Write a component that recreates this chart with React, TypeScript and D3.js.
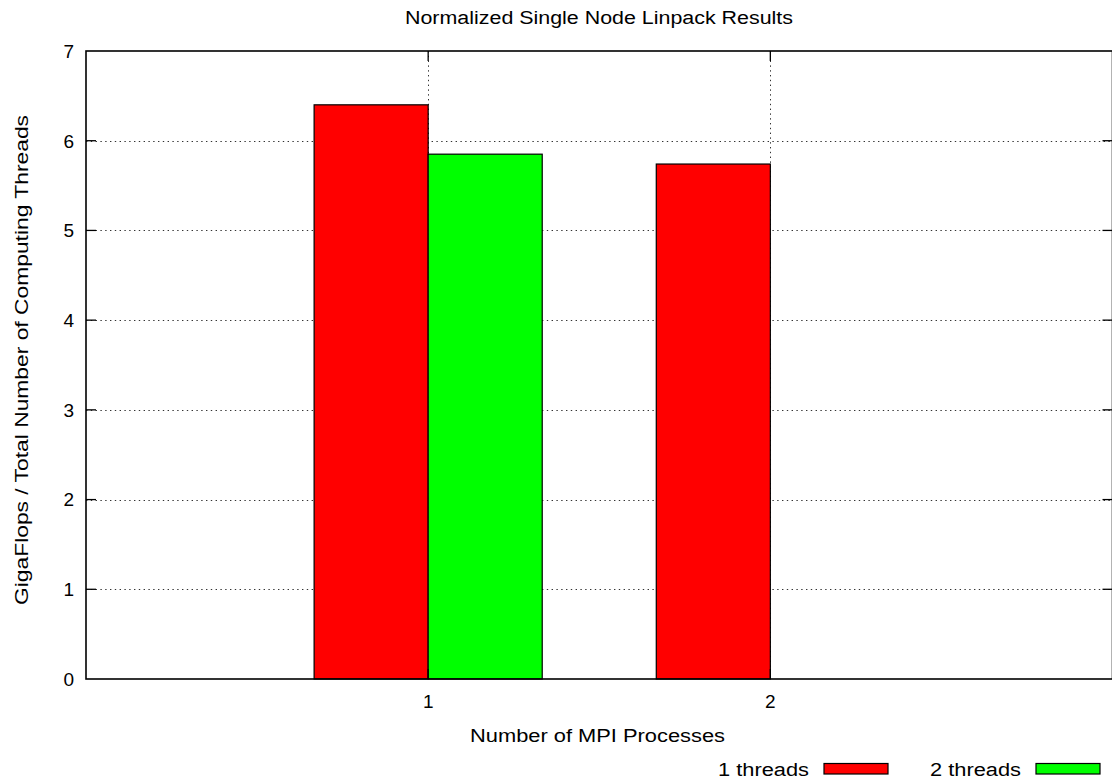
import React from 'react';
import * as d3 from 'd3';

// values
const categories = [1, 2];
const seriesNames = ['1 threads', '2 threads'];
const threads1: (number | null)[] = [6.40, 5.74];
const threads2: (number | null)[] = [5.85, null];
const yTicks = [0, 1, 2, 3, 4, 5, 6, 7];
const xTicks = [1, 2];
const seriesColors = ['#ff0000', '#00ff00'];

const title = 'Normalized Single Node Linpack Results';
const xTitle = 'Number of MPI Processes';
const yTitle = 'GigaFlops / Total Number of Computing Threads';

export default function App() {
    const width = 1112;
    const height = 782;
    const left = 86;
    const right = 1112.5;
    const top = 51;
    const bottom = 679;
    const tickLen = 10;
    const font = "'Liberation Sans', Arial, Helvetica, sans-serif";

    const x = d3.scaleLinear().domain([0, 3]).range([left, right]);
    const y = d3.scaleLinear().domain([0, 7]).range([bottom, top]);

    const barW = 1 / 3;
    const series = [threads1, threads2];

    return (
        <svg width={width} height={height}
            style={{ position: 'absolute', left: 0, top: 0, background: '#fff' }}
            fontFamily={font}>
            {/* grid */}
            <g stroke="#333" strokeWidth={1} strokeDasharray="1.4,3.4">
                {yTicks.filter(t => t > 0 && t < 7).map(t => (
                    <line key={'gy' + t} x1={left} x2={right} y1={Math.round(y(t)) + 0.5} y2={Math.round(y(t)) + 0.5} />
                ))}
                {xTicks.map(t => (
                    <line key={'gx' + t} y1={top} y2={bottom} x1={Math.round(x(t)) + 0.5} x2={Math.round(x(t)) + 0.5} />
                ))}
            </g>

            {/* bars */}
            {series.map((vals, si) => (
                <g key={'s' + si} fill={seriesColors[si]} stroke="#000" strokeWidth={1.2}>
                    {categories.map((c, ci) => {
                        const v = vals[ci];
                        if (v == null) return null;
                        const x0 = x(c - barW + si * barW);
                        const x1 = x(c + si * barW);
                        return <rect key={ci} x={x0} y={y(v)} width={x1 - x0} height={y(0) - y(v)} />;
                    })}
                </g>
            ))}

            {/* border and ticks */}
            <rect x={left} y={top} width={right - left} height={bottom - top} fill="none" stroke="#000" strokeWidth={1.6} />
            <g stroke="#000" strokeWidth={1.3}>
                {yTicks.filter(t => t > 0 && t < 7).map(t => (
                    <g key={'ty' + t}>
                        <line x1={left} x2={left + tickLen} y1={y(t)} y2={y(t)} />
                        <line x1={right - tickLen} x2={right} y1={y(t)} y2={y(t)} />
                    </g>
                ))}
                {xTicks.map(t => (
                    <g key={'tx' + t}>
                        <line y1={top} y2={top + tickLen} x1={x(t)} x2={x(t)} />
                        <line y1={bottom} y2={bottom - tickLen} x1={x(t)} x2={x(t)} />
                    </g>
                ))}
            </g>

            {/* tick labels */}
            <g fontSize={19} fill="#000">
                {yTicks.map(t => (
                    <text key={'ly' + t} x={74} y={y(t)} dy="0.36em" textAnchor="end">{t}</text>
                ))}
                {xTicks.map(t => (
                    <text key={'lx' + t} x={x(t)} y={708} textAnchor="middle">{t}</text>
                ))}
            </g>

            {/* titles */}
            <text x={599} y={24} fontSize={18} textAnchor="middle" textLength={388} lengthAdjust="spacingAndGlyphs">{title}</text>
            <text x={597.5} y={742} fontSize={18} textAnchor="middle" textLength={255} lengthAdjust="spacingAndGlyphs">{xTitle}</text>
            <text transform={`translate(28,${(115 + 605) / 2}) rotate(-90)`} fontSize={18} textAnchor="middle"
                textLength={490} lengthAdjust="spacingAndGlyphs">{yTitle}</text>

            {/* legend */}
            {seriesNames.map((name, i) => {
                const textEnd = 809 + i * 212;
                return (
                    <g key={'lg' + i}>
                        <text x={textEnd} y={776} fontSize={18} textAnchor="end" textLength={91} lengthAdjust="spacingAndGlyphs">{name}</text>
                        <rect x={textEnd + 15} y={763.5} width={64} height={10.5} fill={seriesColors[i]} stroke="#000" strokeWidth={1.2} />
                    </g>
                );
            })}
        </svg>
    );
}
